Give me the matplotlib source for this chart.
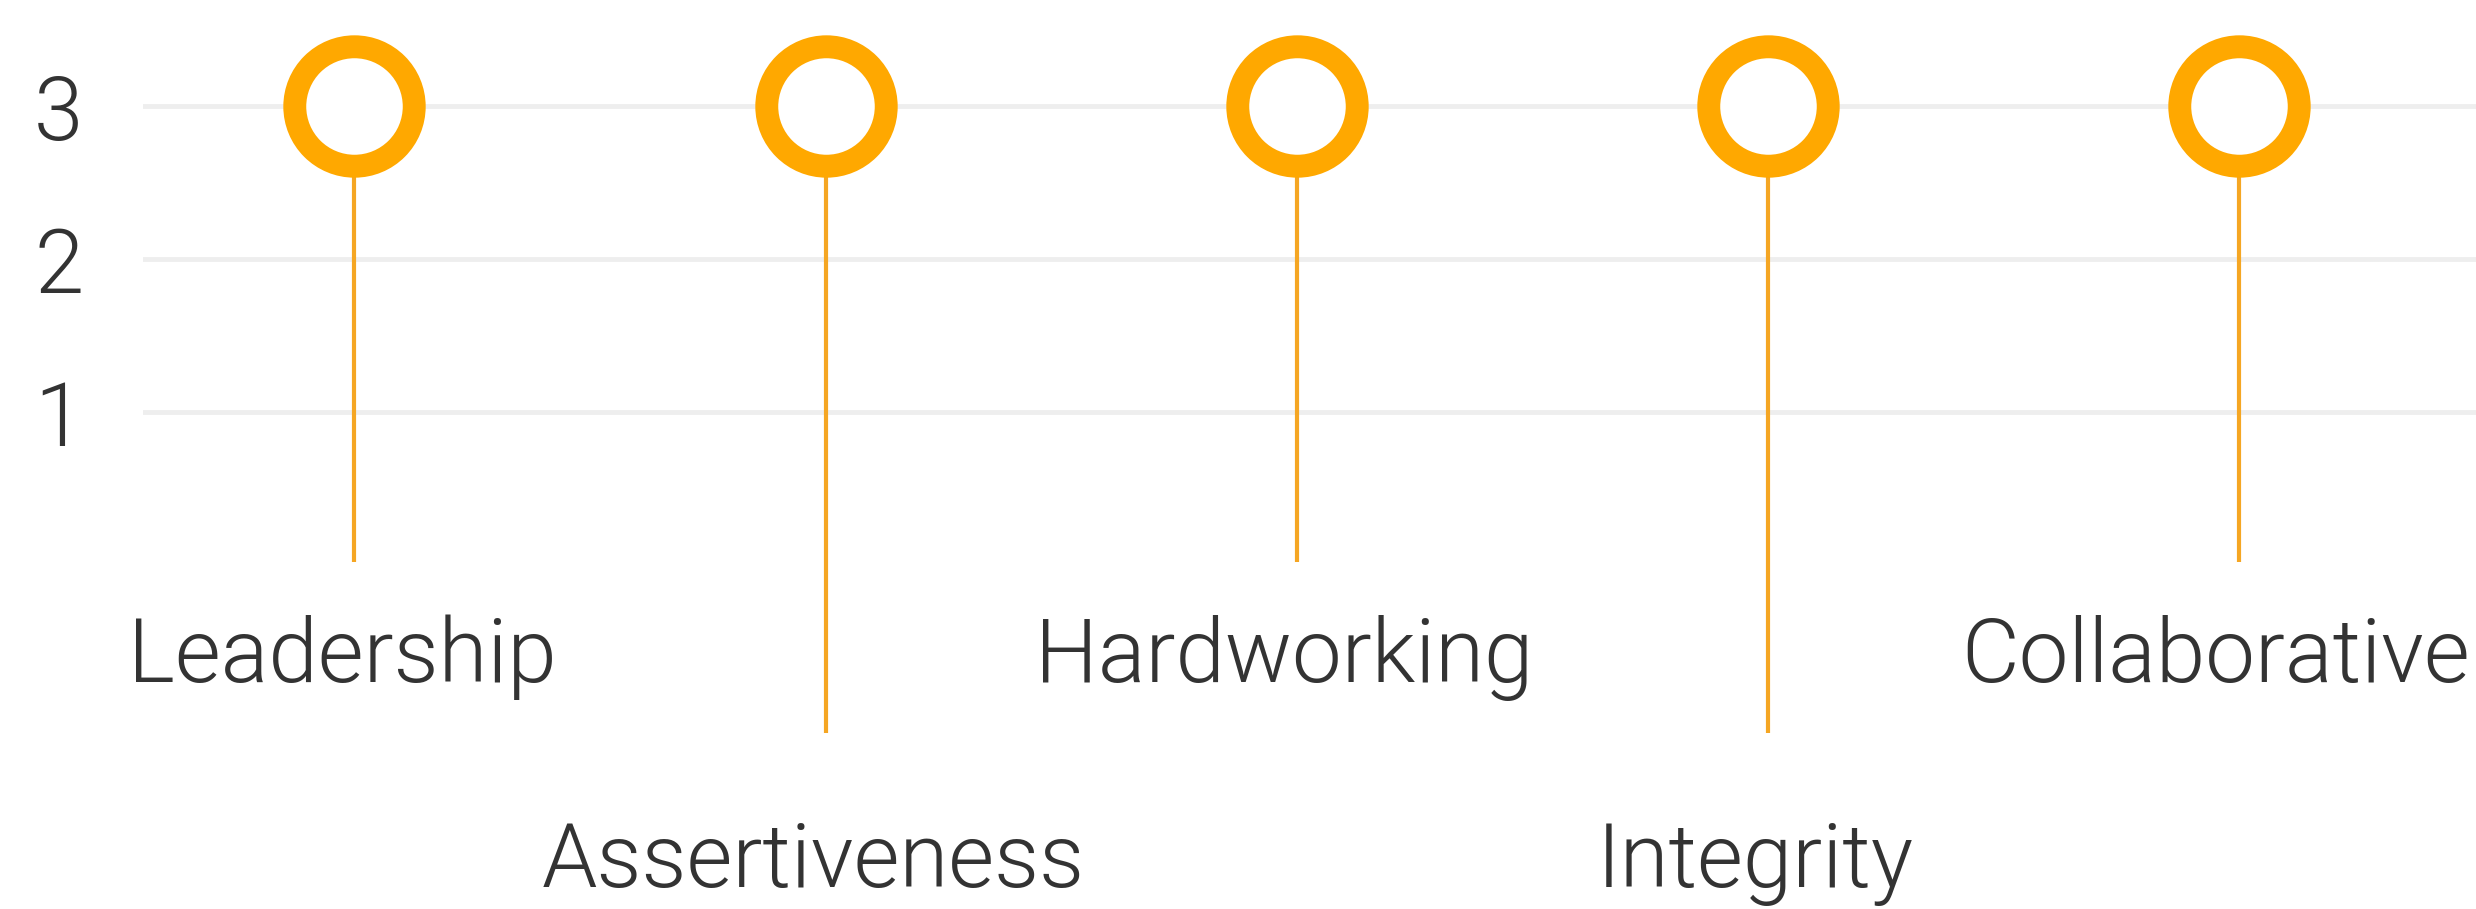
import matplotlib.pyplot as plt
from matplotlib import font_manager

# skills shown as pins, all rated 3
skills = ["Leadership", "Assertiveness", "Hardworking", "Integrity", "Collaborative"]
ratings = [3, 3, 3, 3, 3]
label_row = [0, 1, 0, 1, 0]   # 0 = upper label row, 1 = lower label row
y_ticks = [1, 2, 3]

ring_color = "#FFA800"
stem_color = "#F5A623"
grid_color = "#EEEEEE"
text_color = "#333333"

# pick the static Roboto Light file explicitly
light_path = None
for f in font_manager.fontManager.ttflist:
    if f.fname.endswith("Roboto-Light.ttf"):
        light_path = f.fname
if light_path:
    font = font_manager.FontProperties(fname=light_path, size=64)
else:
    font = font_manager.FontProperties(family="Roboto", weight="light", size=64)

fig = plt.figure(figsize=(24.76, 9.09), dpi=100)
ax = fig.add_axes([143 / 2476, 0, 1 - 143 / 2476, 1])

x = list(range(len(skills)))

# where stems end / labels sit for each row (data units)
stem_end = {0: 0.02, 1: -1.1}
label_base = {0: -0.765, 1: -2.105}

labels = []
for xi, val, row, name in zip(x, ratings, label_row, skills):
    ax.plot([xi, xi], [val, stem_end[row]], color=stem_color, lw=3,
            solid_capstyle="butt", zorder=2)
    t = ax.annotate(name, xy=(xi, label_base[row]), xytext=(-9, 0),
                    textcoords="offset points", ha="center", va="baseline",
                    fontproperties=font, color=text_color)
    labels.append(t)

ax.plot(x, ratings, linestyle="none", marker="o", markersize=86,
        markeredgewidth=16.5, markeredgecolor=ring_color,
        markerfacecolor="white", zorder=3, clip_on=False)

for t in y_ticks:
    ax.axhline(t, color=grid_color, lw=3.5, zorder=1)

ax.set_xlim(-0.449, 4.504)
ax.set_ylim(-2.248, 3.693)
ax.set_yticks(y_ticks)
ax.set_yticklabels([str(t) for t in y_ticks], fontproperties=font,
                   color=text_color)
ax.set_xticks([])
ax.tick_params(axis="y", length=0, pad=43)
for s in ax.spines.values():
    s.set_visible(False)

# keep labels inside the canvas (last one would run off the right edge)
fig.canvas.draw()
renderer = fig.canvas.get_renderer()
fig_w = fig.bbox.width
for t in labels:
    over = t.get_window_extent(renderer).x1 - (fig_w - 6)
    if over > 0:
        dx, dy = t.xyann
        t.xyann = (dx - over * 72 / fig.dpi, dy)

fig.savefig("out.png", dpi=100, facecolor="white")
